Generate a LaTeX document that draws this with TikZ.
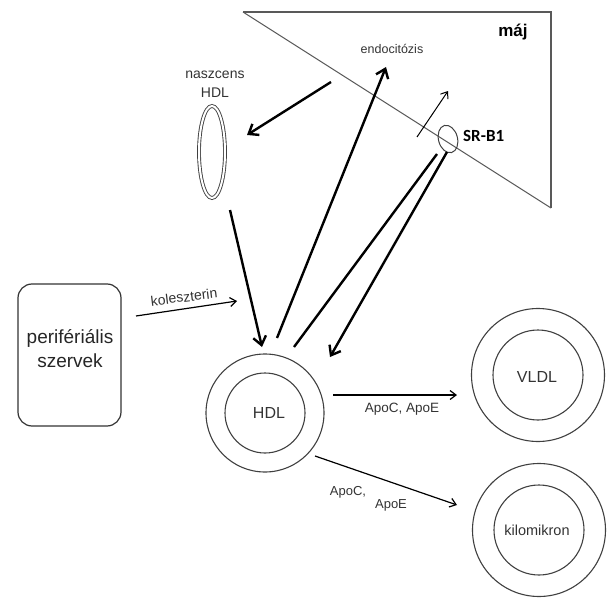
\documentclass[tikz,border=0pt]{standalone}
\usepackage{fontspec}
\setmainfont{Liberation Sans}
\newfontfamily\calib{Carlito}
\usetikzlibrary{arrows.meta,shapes.geometric}
\begin{document}
\begin{tikzpicture}[x=1pt,y=-1pt,
  thickarrow/.style={line width=2.4pt,-{Straight Barb[length=8.5pt,width=13pt]}},
  thickline/.style={line width=2.4pt},
  thinarrow/.style={line width=1.2pt,-{Straight Barb[length=6pt,width=9pt]}},
  ring/.style={circle,draw=black!75,line width=1.1pt,inner sep=0pt},
  txt/.style={inner sep=0pt,text=black!80},
  fs/.style={font=\fontsize{#1}{#1}\selectfont}]
\useasboundingbox (0,0) rectangle (614,605);
% liver
\coordinate (ltl) at (243,12);
\coordinate (ltr) at (551,12);
\coordinate (lbr) at (551,208);
\draw[line width=1.6pt,black!65] (ltl) -- (ltr) -- (lbr);
\draw[line width=1pt,black!65] (ltl) -- (lbr);
\node[txt,anchor=base,text=black,font=\fontsize{17}{17}\selectfont\bfseries] (maj) at (513,37) {máj};
\node[txt,anchor=base,fs=12.5] (endo) at (392,53) {endocitózis};
% SR-B1
\node[ellipse,draw=black!75,line width=1pt,minimum width=19pt,minimum height=28pt,inner sep=0pt,rotate=15] (srb) at (448,139) {};
\node[txt,anchor=base west,text=black,font=\calib\fontsize{17}{17}\selectfont\bfseries] (srbl) at (463,141) {SR-B1};
% naszcens HDL
\node[ellipse,draw=black!75,double,double distance=2pt,line width=0.9pt,minimum width=26pt,minimum height=92pt,inner sep=0pt] (nasz) at (212,152) {};
\node[txt,anchor=base,fs=14,align=center] (naszl) at (215,78) {naszcens};
\node[txt,anchor=base,fs=14] (naszl2) at (215,97) {HDL};
% peripheral organs
\node[draw=black!80,line width=1.2pt,rounded corners=14pt,minimum width=103pt,minimum height=142pt,inner sep=0pt] (per) at (69.5,355) {};
\node[txt,anchor=base,fs=19,text=black!85] (perl1) at (70,343) {perifériális};
\node[txt,anchor=base,fs=19,text=black!85] (perl2) at (70,367) {szervek};
% lipoproteins
\node[ring,minimum size=118pt] (hdl) at (265,413) {};
\node[ring,minimum size=80pt] (hdlin) at (265,413) {};
\node[txt,anchor=base,fs=16] (hdll) at (269,418) {HDL};
\node[ring,minimum size=133pt] (vldl) at (538,375) {};
\node[ring,minimum size=90pt] (vldlin) at (538,375) {};
\node[txt,anchor=base,fs=16] (vldll) at (537,382) {VLDL};
\node[ring,minimum size=133pt] (kilo) at (539,530) {};
\node[ring,minimum size=90pt] (kiloin) at (539,530) {};
\node[txt,anchor=base,fs=14.5] (kilol) at (537,535) {kilomikron};
% connector endpoints
\coordinate (a1s) at (331,82);   \coordinate (a1e) at (247,135);
\coordinate (a2s) at (230,210);  \coordinate (a2e) at (262,347);
\coordinate (a3s) at (277,338);  \coordinate (a3e) at (386,67);
\coordinate (a4s) at (437,154);  \coordinate (a4e) at (294,347);
\coordinate (a5s) at (447,152);  \coordinate (a5e) at (330,357);
\coordinate (a6s) at (417,137);  \coordinate (a6e) at (448,91);
\coordinate (a7s) at (136,316);  \coordinate (a7e) at (237,301);
\coordinate (a8s) at (333,395);  \coordinate (a8e) at (457,395);
\coordinate (a9s) at (315,456);  \coordinate (a9e) at (457,505);
\draw[thickarrow] (a1s) -- (a1e);
\draw[thickarrow] (a2s) -- (a2e);
\draw[thickarrow] (a3s) -- (a3e);
\draw[thickline] (a4s) -- (a4e);
\draw[thickarrow] (a5s) -- (a5e);
\draw[thinarrow,line width=1pt] (a6s) -- (a6e);
\draw[thinarrow] (a7s) -- (a7e);
\draw[thinarrow] (a8s) -- (a8e);
\draw[thinarrow] (a9s) -- (a9e);
% labels
\node[txt,fs=14,rotate=7] (kol) at (184,297) {koleszterin};
\node[txt,anchor=base,fs=13.5] (apo1) at (402,412) {ApoC, ApoE};
\node[txt,anchor=base,fs=13] (apo2) at (348,495) {ApoC,};
\node[txt,anchor=base,fs=13] (apo3) at (391,508) {ApoE};
\end{tikzpicture}
\end{document}
